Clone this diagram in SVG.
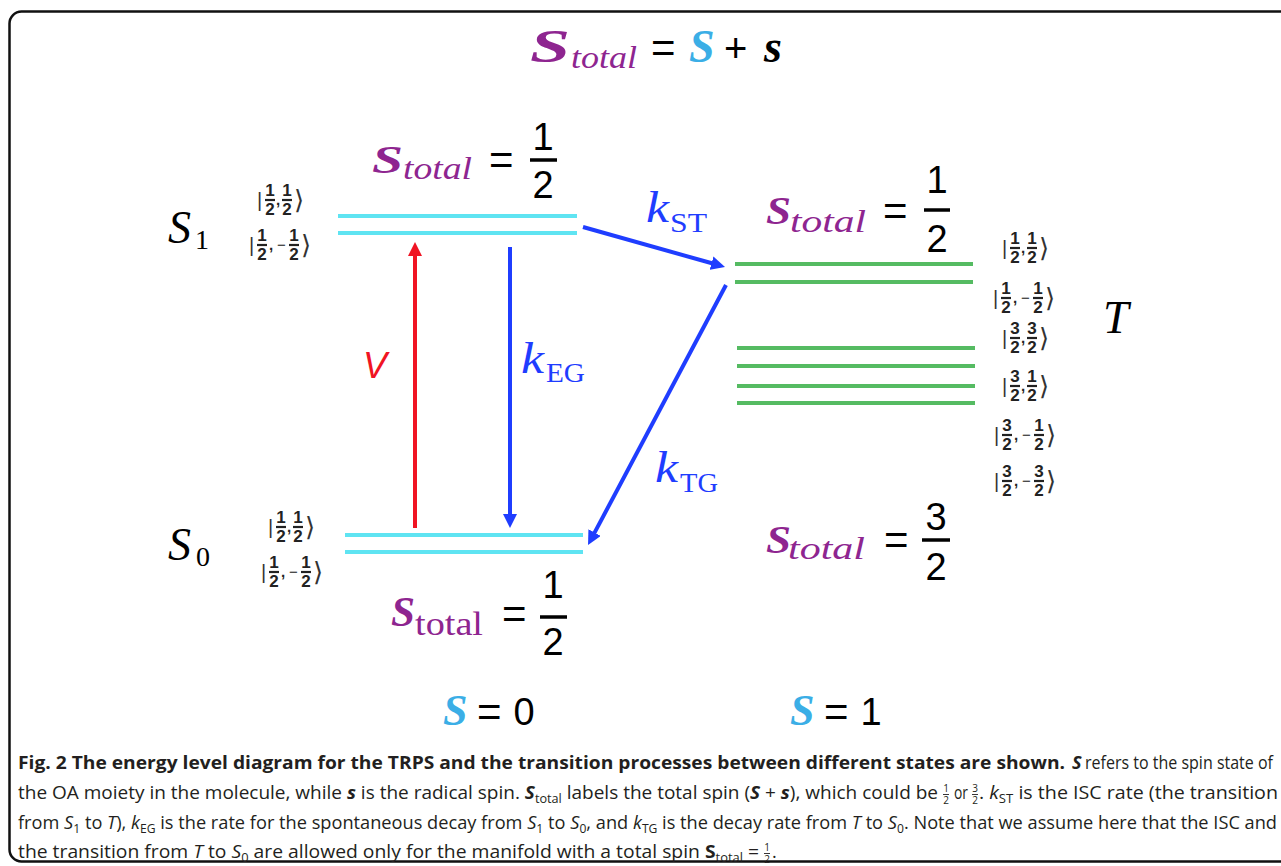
<svg xmlns="http://www.w3.org/2000/svg" width="1281" height="866" viewBox="0 0 1281 866">
<style>
text{font-family:"Liberation Serif",serif;fill:#000}
.bi{font-weight:bold;font-style:italic}
.it{font-style:italic}
.pu{fill:#8E2590}
.cy{fill:#3BAEE6}
.bl{fill:#1F3DFF}
.rd{fill:#F01423}
.sans{font-family:"Liberation Sans",sans-serif}
.eq{font-family:"Liberation Sans",sans-serif;font-size:42px}
.dig{font-family:"Liberation Sans",sans-serif;font-size:38px;text-anchor:middle}
.fbar{stroke:#000;stroke-width:3.5}
.kn{font-family:"Liberation Sans",sans-serif;font-weight:bold;font-size:17px;text-anchor:middle;fill:#222}
.kc{font-family:"Liberation Sans",sans-serif;font-weight:bold;font-size:15px;fill:#222}
.km{font-family:"Liberation Sans",sans-serif;font-size:15px;fill:#222}
.kv{font-family:"Liberation Sans",sans-serif;font-size:20px;fill:#333}
.ka{font-family:"DejaVu Sans",sans-serif;font-size:26px;fill:#333}
.kb{stroke:#222;stroke-width:2.2}
.cyl{stroke:#5FE4F2;stroke-width:4}
.grl{stroke:#55BB62;stroke-width:4}
.cap{font-family:"Open Sans",sans-serif;font-size:18px;fill:#231F20}
.capb{font-weight:bold}
.sb{font-size:12px}
.cf{font-family:"Open Sans",sans-serif;font-size:10px;text-anchor:middle;fill:#231F20}
.cfb{stroke:#231F20;stroke-width:0.9}
</style>
<defs>
<marker id="ah-red" viewBox="0 0 14 14" refX="6" refY="7" markerWidth="14" markerHeight="14" markerUnits="userSpaceOnUse" orient="auto"><path d="M0,0 L14,7 L0,14 z" fill="#F01423"/></marker>
<marker id="ah-blue" viewBox="0 0 14 14" refX="6" refY="7" markerWidth="14" markerHeight="14" markerUnits="userSpaceOnUse" orient="auto"><path d="M0,0 L14,7 L0,14 z" fill="#1F3DFF"/></marker>
</defs>
<rect width="1281" height="866" fill="#fff"/>
<rect id="frame" x="9.5" y="11.5" width="1330" height="850" rx="12" fill="none" stroke="#111" stroke-width="2.5"/>

<g id="title">
<text x="530" y="62" class="bi pu" font-size="46" textLength="40" lengthAdjust="spacingAndGlyphs">S</text>
<text x="571" y="68" class="it pu" font-size="32" textLength="66" lengthAdjust="spacingAndGlyphs">total</text>
<text x="651" y="62" class="eq">=</text>
<text x="689" y="62" class="bi cy" font-size="46">S</text>
<text x="724" y="62" class="sans" font-size="40">+</text>
<text x="764" y="62" class="bi" font-size="46">s</text>
</g>

<g id="S1-level">
<line x1="338" y1="216" x2="577" y2="216" class="cyl"/>
<line x1="338" y1="233" x2="577" y2="233" class="cyl"/>
<text x="168" y="243" class="it" font-size="46">S</text>
<text x="195" y="249" font-size="28">1</text>
<g transform="translate(257,200)">
<text x="0" y="7" class="kv">|</text>
<text x="13" y="-4" class="kn">1</text><line x1="8" y1="0" x2="18" y2="0" class="kb"/><text x="13" y="15" class="kn">2</text>
<text x="19" y="5" class="kc">,</text>
<text x="30" y="-4" class="kn">1</text><line x1="25" y1="0" x2="35" y2="0" class="kb"/><text x="30" y="15" class="kn">2</text>
<text x="37" y="9" class="ka">⟩</text>
</g>
<g transform="translate(249,245)">
<text x="0" y="7" class="kv">|</text>
<text x="13" y="-4" class="kn">1</text><line x1="8" y1="0" x2="18" y2="0" class="kb"/><text x="13" y="15" class="kn">2</text>
<text x="20" y="5" class="kc">,</text>
<text x="28" y="5" class="km">−</text>
<text x="45" y="-4" class="kn">1</text><line x1="40" y1="0" x2="50" y2="0" class="kb"/><text x="45" y="15" class="kn">2</text>
<text x="52" y="9" class="ka">⟩</text>
</g>
<g id="S1-total">
<text x="372" y="173" class="bi pu" font-size="40" textLength="31" lengthAdjust="spacingAndGlyphs">S</text>
<text x="403" y="179" class="it pu" font-size="32" textLength="69" lengthAdjust="spacingAndGlyphs">total</text>
<text x="489" y="174" class="eq">=</text>
<text x="543" y="150" class="dig">1</text>
<line x1="530" y1="160" x2="557" y2="160" class="fbar"/>
<text x="543" y="198" class="dig">2</text>
</g>
</g>

<g id="S0-level">
<line x1="345" y1="535" x2="583" y2="535" class="cyl"/>
<line x1="345" y1="552" x2="583" y2="552" class="cyl"/>
<text x="168" y="560" class="it" font-size="46">S</text>
<text x="196" y="566" font-size="28">0</text>
<g transform="translate(268,527)">
<text x="0" y="7" class="kv">|</text>
<text x="13" y="-4" class="kn">1</text><line x1="8" y1="0" x2="18" y2="0" class="kb"/><text x="13" y="15" class="kn">2</text>
<text x="19" y="5" class="kc">,</text>
<text x="30" y="-4" class="kn">1</text><line x1="25" y1="0" x2="35" y2="0" class="kb"/><text x="30" y="15" class="kn">2</text>
<text x="37" y="9" class="ka">⟩</text>
</g>
<g transform="translate(261,572)">
<text x="0" y="7" class="kv">|</text>
<text x="13" y="-4" class="kn">1</text><line x1="8" y1="0" x2="18" y2="0" class="kb"/><text x="13" y="15" class="kn">2</text>
<text x="20" y="5" class="kc">,</text>
<text x="28" y="5" class="km">−</text>
<text x="45" y="-4" class="kn">1</text><line x1="40" y1="0" x2="50" y2="0" class="kb"/><text x="45" y="15" class="kn">2</text>
<text x="52" y="9" class="ka">⟩</text>
</g>
<g id="S0-total">
<text x="391" y="626" class="bi pu" font-size="42" textLength="24" lengthAdjust="spacingAndGlyphs">S</text>
<text x="415" y="635" class="pu" font-size="34" textLength="68" lengthAdjust="spacingAndGlyphs">total</text>
<text x="502" y="628" class="eq">=</text>
<text x="553" y="598" class="dig">1</text>
<line x1="540" y1="617" x2="567" y2="617" class="fbar"/>
<text x="553" y="655" class="dig">2</text>
</g>
</g>

<g id="T-level">
<line x1="735" y1="264" x2="973" y2="264" class="grl"/>
<line x1="735" y1="282" x2="973" y2="282" class="grl"/>
<line x1="737" y1="348" x2="975" y2="348" class="grl"/>
<line x1="737" y1="366" x2="975" y2="366" class="grl"/>
<line x1="737" y1="386" x2="975" y2="386" class="grl"/>
<line x1="737" y1="403" x2="975" y2="403" class="grl"/>
<text x="1103" y="333" class="it" font-size="46">T</text>
<g transform="translate(1002,248)">
<text x="0" y="7" class="kv">|</text>
<text x="13" y="-4" class="kn">1</text><line x1="8" y1="0" x2="18" y2="0" class="kb"/><text x="13" y="15" class="kn">2</text>
<text x="19" y="5" class="kc">,</text>
<text x="30" y="-4" class="kn">1</text><line x1="25" y1="0" x2="35" y2="0" class="kb"/><text x="30" y="15" class="kn">2</text>
<text x="37" y="9" class="ka">⟩</text>
</g>
<g transform="translate(993,298)">
<text x="0" y="7" class="kv">|</text>
<text x="13" y="-4" class="kn">1</text><line x1="8" y1="0" x2="18" y2="0" class="kb"/><text x="13" y="15" class="kn">2</text>
<text x="20" y="5" class="kc">,</text>
<text x="28" y="5" class="km">−</text>
<text x="45" y="-4" class="kn">1</text><line x1="40" y1="0" x2="50" y2="0" class="kb"/><text x="45" y="15" class="kn">2</text>
<text x="52" y="9" class="ka">⟩</text>
</g>
<g transform="translate(1002,338)">
<text x="0" y="7" class="kv">|</text>
<text x="13" y="-4" class="kn">3</text><line x1="8" y1="0" x2="18" y2="0" class="kb"/><text x="13" y="15" class="kn">2</text>
<text x="19" y="5" class="kc">,</text>
<text x="30" y="-4" class="kn">3</text><line x1="25" y1="0" x2="35" y2="0" class="kb"/><text x="30" y="15" class="kn">2</text>
<text x="37" y="9" class="ka">⟩</text>
</g>
<g transform="translate(1002,386)">
<text x="0" y="7" class="kv">|</text>
<text x="13" y="-4" class="kn">3</text><line x1="8" y1="0" x2="18" y2="0" class="kb"/><text x="13" y="15" class="kn">2</text>
<text x="19" y="5" class="kc">,</text>
<text x="30" y="-4" class="kn">1</text><line x1="25" y1="0" x2="35" y2="0" class="kb"/><text x="30" y="15" class="kn">2</text>
<text x="37" y="9" class="ka">⟩</text>
</g>
<g transform="translate(994,435)">
<text x="0" y="7" class="kv">|</text>
<text x="13" y="-4" class="kn">3</text><line x1="8" y1="0" x2="18" y2="0" class="kb"/><text x="13" y="15" class="kn">2</text>
<text x="20" y="5" class="kc">,</text>
<text x="28" y="5" class="km">−</text>
<text x="45" y="-4" class="kn">1</text><line x1="40" y1="0" x2="50" y2="0" class="kb"/><text x="45" y="15" class="kn">2</text>
<text x="52" y="9" class="ka">⟩</text>
</g>
<g transform="translate(994,481)">
<text x="0" y="7" class="kv">|</text>
<text x="13" y="-4" class="kn">3</text><line x1="8" y1="0" x2="18" y2="0" class="kb"/><text x="13" y="15" class="kn">2</text>
<text x="20" y="5" class="kc">,</text>
<text x="28" y="5" class="km">−</text>
<text x="45" y="-4" class="kn">3</text><line x1="40" y1="0" x2="50" y2="0" class="kb"/><text x="45" y="15" class="kn">2</text>
<text x="52" y="9" class="ka">⟩</text>
</g>
<g id="T-total-half">
<text x="766" y="224" class="bi pu" font-size="40" textLength="25" lengthAdjust="spacingAndGlyphs">S</text>
<text x="790" y="232" class="it pu" font-size="32" textLength="76" lengthAdjust="spacingAndGlyphs">total</text>
<text x="883" y="225" class="eq">=</text>
<text x="937" y="193" class="dig">1</text>
<line x1="924" y1="210" x2="950" y2="210" class="fbar"/>
<text x="937" y="252" class="dig">2</text>
</g>
<g id="T-total-threehalf">
<text x="766" y="553" class="bi pu" font-size="40" textLength="25" lengthAdjust="spacingAndGlyphs">S</text>
<text x="788" y="559" class="it pu" font-size="32" textLength="77" lengthAdjust="spacingAndGlyphs">total</text>
<text x="884" y="554" class="eq">=</text>
<text x="936" y="530" class="dig">3</text>
<line x1="922" y1="540" x2="950" y2="540" class="fbar"/>
<text x="936" y="580" class="dig">2</text>
</g>
</g>

<g id="connectors" fill="none" stroke-width="4">
<line x1="415" y1="528" x2="415" y2="250" stroke="#F01423" marker-end="url(#ah-red)"/>
<line x1="510" y1="247" x2="510" y2="520" stroke="#1F3DFF" marker-end="url(#ah-blue)"/>
<line x1="583" y1="227" x2="717.3" y2="264.8" stroke="#1F3DFF" marker-end="url(#ah-blue)"/>
<line x1="726" y1="285" x2="591.8" y2="537.9" stroke="#1F3DFF" marker-end="url(#ah-blue)"/>
</g>

<g id="labels">
<text x="363" y="378" class="sans it rd" font-size="36">V</text>
<text x="521" y="373" class="it bl" font-size="44" textLength="23" lengthAdjust="spacingAndGlyphs">k</text>
<text x="546" y="382" class="bl" font-size="28" textLength="39" lengthAdjust="spacingAndGlyphs">EG</text>
<text x="646" y="222" class="it bl" font-size="44" textLength="23" lengthAdjust="spacingAndGlyphs">k</text>
<text x="670" y="232" class="bl" font-size="28" textLength="37" lengthAdjust="spacingAndGlyphs">ST</text>
<text x="655" y="482" class="it bl" font-size="44" textLength="23" lengthAdjust="spacingAndGlyphs">k</text>
<text x="680" y="492" class="bl" font-size="28" textLength="38" lengthAdjust="spacingAndGlyphs">TG</text>
</g>

<g id="spin-labels">
<text x="443" y="725" class="bi cy" font-size="44">S</text>
<text x="477" y="726" class="eq">=</text>
<text x="524" y="725" class="dig" font-size="40">0</text>
<text x="790" y="725" class="bi cy" font-size="44">S</text>
<text x="824" y="726" class="eq">=</text>
<text x="871" y="725" class="dig" font-size="40">1</text>
</g>

<g id="caption">
<text x="18" y="769" class="cap capb" textLength="1047" lengthAdjust="spacingAndGlyphs">Fig. 2 The energy level diagram for the TRPS and the transition processes between different states are shown.</text>
<text x="1072" y="769" class="cap bi">S</text>
<text x="1085" y="769" class="cap" font-size="16.5" textLength="188" lengthAdjust="spacingAndGlyphs">refers to the spin state of</text>

<text x="18" y="799" class="cap" textLength="920" lengthAdjust="spacingAndGlyphs">the OA moiety in the molecule, while <tspan class="bi">s</tspan> is the radical spin. <tspan class="bi">S</tspan><tspan class="sb" baseline-shift="-4">total</tspan> labels the total spin (<tspan class="bi">S</tspan> + <tspan class="bi">s</tspan>), which could be</text>
<text x="946" y="792" class="cf">1</text><line x1="943" y1="794.5" x2="949" y2="794.5" class="cfb"/><text x="946" y="804" class="cf">2</text>
<text x="954" y="799" class="cap" textLength="14" lengthAdjust="spacingAndGlyphs">or</text>
<text x="975" y="792" class="cf">3</text><line x1="972" y1="794.5" x2="978" y2="794.5" class="cfb"/><text x="975" y="804" class="cf">2</text>
<text x="979" y="799" class="cap" textLength="299" lengthAdjust="spacingAndGlyphs">. <tspan class="it">k</tspan><tspan class="sb" baseline-shift="-4">ST</tspan> is the ISC rate (the transition</text>

<text x="18" y="829" class="cap" textLength="1259" lengthAdjust="spacingAndGlyphs">from <tspan class="it">S</tspan><tspan class="sb" baseline-shift="-4">1</tspan> to <tspan class="it">T</tspan>), <tspan class="it">k</tspan><tspan class="sb" baseline-shift="-4">EG</tspan> is the rate for the spontaneous decay from <tspan class="it">S</tspan><tspan class="sb" baseline-shift="-4">1</tspan> to <tspan class="it">S</tspan><tspan class="sb" baseline-shift="-4">0</tspan>, and <tspan class="it">k</tspan><tspan class="sb" baseline-shift="-4">TG</tspan> is the decay rate from <tspan class="it">T</tspan> to <tspan class="it">S</tspan><tspan class="sb" baseline-shift="-4">0</tspan>. Note that we assume here that the ISC and</text>

<text x="18" y="858" class="cap" textLength="741" lengthAdjust="spacingAndGlyphs">the transition from <tspan class="it">T</tspan> to <tspan class="it">S</tspan><tspan class="sb" baseline-shift="-4">0</tspan> are allowed only for the manifold with a total spin <tspan class="capb">S</tspan><tspan class="sb" baseline-shift="-4">total</tspan> =</text>
<text x="767" y="851" class="cf">1</text><line x1="764" y1="853.5" x2="770" y2="853.5" class="cfb"/><text x="767" y="863" class="cf">2</text>
<text x="772" y="858" class="cap">.</text>
</g>
</svg>
